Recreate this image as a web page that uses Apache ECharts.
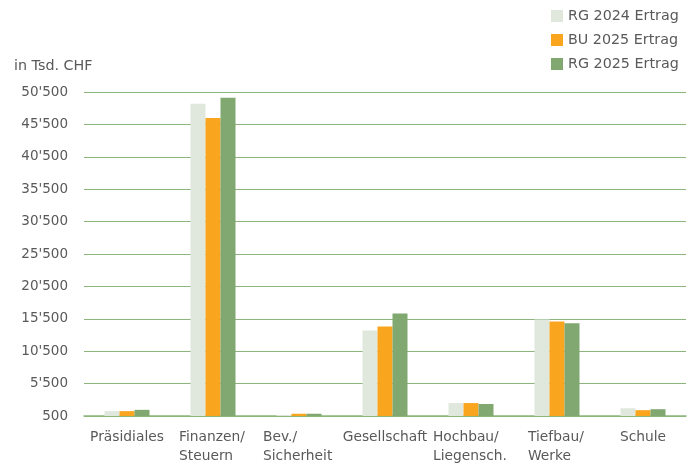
<!DOCTYPE html>
<html>
<head>
<meta charset="utf-8">
<script src="https://cdn.jsdelivr.net/npm/echarts@6/dist/echarts.min.js"></script>
<style>html,body{margin:0;padding:0;background:#fff}#c{width:691px;height:463px}</style>
</head>
<body>
<div id="c"></div>
<script>
var categories = ['Präsidiales', 'Finanzen/\nSteuern', 'Bev./\nSicherheit', 'Gesellschaft', 'Hochbau/\nLiegensch.', 'Tiefbau/\nWerke', 'Schule'];
var seriesNames = ['RG 2024 Ertrag', 'BU 2025 Ertrag', 'RG 2025 Ertrag'];
var rg2024 = [1250, 48700, 650, 13700, 2500, 15400, 1700];
var bu2025 = [1250, 46500, 850, 14300, 2500, 15100, 1400];
var rg2025 = [1450, 49600, 850, 16300, 2350, 14800, 1550];
var yTicks = {min: 500, max: 50500, interval: 5000};

var font = 'DejaVu Sans';
var fs = 13.5;
var fsx = 13.8;
var fsl = 14.3;
var chart = echarts.init(document.getElementById('c'), null, {renderer: 'canvas'});
function fmt(v){ return String(v).replace(/\B(?=(\d{3})+(?!\d))/g, "'"); }
function measure(t){
  var c = document.createElement('canvas').getContext('2d');
  c.font = fsx + 'px ' + font;
  return c.measureText(t).width;
}
function catFmt(v){
  var lines = v.split('\n');
  if (lines.length === 1) return v;
  var w = Math.ceil(Math.max.apply(null, lines.map(measure))) + 2;
  return lines.map(function(l){ return '{l' + w + '|' + l + '}'; }).join('\n');
}
var rich = {};
categories.forEach(function(v){
  var lines = v.split('\n');
  if (lines.length > 1) {
    var w = Math.ceil(Math.max.apply(null, lines.map(measure))) + 2;
    rich['l' + w] = {width: w, align: 'left', fontSize: fsx, fontFamily: font, color: '#595959', lineHeight: 19};
  }
});
var colors = ['#E0E8DD', '#F9A51E', '#80A870'];
chart.setOption({
  animation: false,
  color: colors,
  textStyle: {fontFamily: font},
  title: {text: 'in Tsd. CHF', left: 9, top: 54, textStyle: {fontSize: fsl, fontWeight: 'normal', color: '#595959', fontFamily: font}},
  legend: {
    orient: 'vertical', left: 546, top: 4, itemWidth: 12, itemHeight: 12, itemGap: 10,
    icon: 'rect',
    textStyle: {fontSize: fsl, color: '#595959', fontFamily: font},
    data: seriesNames
  },
  grid: {left: 84, right: 5, top: 92, bottom: 47, outerBoundsMode: 'none', containLabel: false},
  xAxis: {
    type: 'category', data: categories,
    axisLine: {lineStyle: {color: '#8DB67E', width: 1.5}},
    axisTick: {show: false},
    axisLabel: {color: '#595959', fontSize: fsx, fontFamily: font, margin: 12, lineHeight: 19, interval: 0, formatter: catFmt, rich: rich}
  },
  yAxis: {
    type: 'value', min: yTicks.min, max: yTicks.max, interval: yTicks.interval,
    axisLine: {show: false}, axisTick: {show: false},
    axisLabel: {color: '#595959', fontSize: fs, fontFamily: font, margin: 16, formatter: fmt},
    splitLine: {lineStyle: {color: '#8DB67E', width: 1.2}}
  },
  series: seriesNames.map(function(n, i){
    return {name: n, type: 'bar', data: [rg2024, bu2025, rg2025][i], barWidth: 15, barGap: '0%'};
  })
});
</script>
</body>
</html>
